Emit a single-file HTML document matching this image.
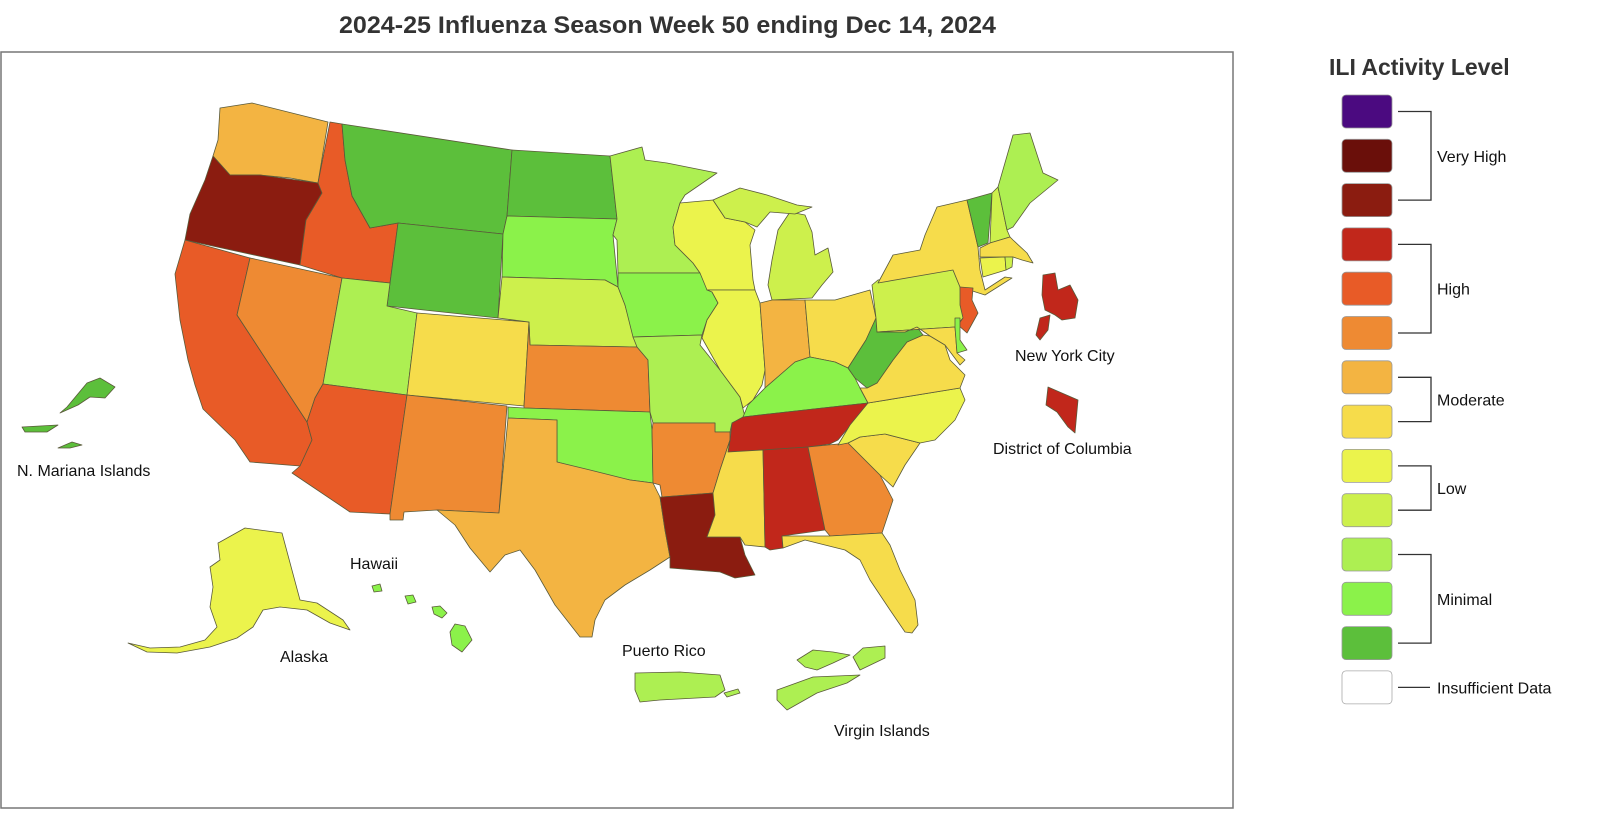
<!DOCTYPE html>
<html><head><meta charset="utf-8">
<style>
html,body{margin:0;padding:0;background:#fff;}
svg{display:block;font-family:"Liberation Sans",Arial,sans-serif;}
</style></head>
<body>
<svg id="chart" width="1600" height="822" viewBox="0 0 1600 822" xmlns="http://www.w3.org/2000/svg">
<rect x="0" y="0" width="1600" height="822" fill="#fff"/>
<text x="339" y="33" font-size="24" font-weight="bold" fill="#333" textLength="657" lengthAdjust="spacingAndGlyphs">2024-25 Influenza Season Week 50 ending Dec 14, 2024</text>
<rect x="1" y="52" width="1232" height="756" fill="none" stroke="#777" stroke-width="1.5"/>
<g id="map"></g>
<g id="labels">
<text x="17" y="476" font-size="16" fill="#111">N. Mariana Islands</text>
<text x="350" y="569" font-size="16" fill="#111">Hawaii</text>
<text x="280" y="662" font-size="16" fill="#111">Alaska</text>
<text x="622" y="656" font-size="16" fill="#111">Puerto Rico</text>
<text x="834" y="736" font-size="16" fill="#111">Virgin Islands</text>
<text x="1015" y="361" font-size="16" fill="#111">New York City</text>
<text x="993" y="454" font-size="16" fill="#111">District of Columbia</text>
</g>
<text x="1329" y="75" font-size="23" font-weight="bold" fill="#333">ILI Activity Level</text>
<g id="legend"></g>
</svg>
<script>
// ---- data ----
const regions = ["WA","OR","CA","NV","ID","MT","WY","UT","CO","AZ","NM","ND","SD","NE","KS","OK","TX","MN","IA","MO","AR","LA","WI","IL","MI","MI_UP","IN","OH","KY","TN","MS","AL","GA","FL","SC","NC","VA","WV","PA","NY","NJ","MD","DE","VT","NH","ME","MA","CT","RI","AK","HI1","HI2","HI3","HI4","PR","PR2","VI1","VI2","VI3","NMI1","NMI2","NMI3","NYC1","NYC2","DC"];
const levels =  [7,11,9,8,9,1,1,3,6,9,8,1,2,4,8,2,7,3,2,3,8,11,5,5,4,4,7,6,2,10,6,10,8,6,6,5,6,1,4,6,9,6,2,1,4,3,6,5,4,5,2,2,2,2,3,3,3,3,3,1,1,1,10,10,10];
const legendColors = ["#4b0a80","#6a0f0a","#8b1c10","#c1271b","#e85b27","#ee8a33","#f3b442","#f6dc4b","#ebf34c","#cdf04c","#adef52","#8bf24a","#5cbf3b","#ffffff"];
const legendGroups = ["Very High","High","Moderate","Low","Minimal","Insufficient Data"];
const groupStart = [0,3,6,8,10,13];
const groupEnd   = [2,5,7,9,12,13];

// ---- geometry (pixel outlines) ----
const shapes = {
WA:"220,108 252,103 328,122 318,183 290,178 260,175 230,175 213,156 218,140",
OR:"213,156 230,175 260,175 318,183 322,193 306,220 300,265 185,240 190,214 205,180",
CA:"185,240 250,258 237,315 307,422 312,440 300,466 250,462 235,440 203,409 195,385 188,360 180,320 175,274",
NV:"250,258 342,278 323,384 315,398 307,422 237,315",
ID:"330,122 342,124 345,160 352,196 370,228 398,223 390,283 342,278 300,265 306,220 322,193 318,183",
MT:"342,124 512,150 507,216 503,234 398,223 370,228 352,196 345,160",
WY:"398,223 503,234 498,318 387,306",
UT:"342,278 390,283 387,306 417,313 407,395 323,384",
CO:"417,313 529,322 524,406 407,395",
AZ:"315,398 323,384 407,395 390,514 350,512 292,473 300,466 312,440 307,422",
NM:"407,395 507,406 499,513 437,510 404,512 403,520 390,520 390,514",
ND:"512,150 610,156 617,219 507,216",
SD:"507,216 617,219 613,235 618,287 605,280 502,277 503,234",
NE:"502,277 605,280 618,287 625,305 637,347 530,345 529,322 498,318",
KS:"530,345 637,347 648,360 650,412 524,408 524,406 529,322",
OK:"508,407 524,408 650,412 652,430 653,483 630,480 600,474 557,462 557,420 508,418",
TX:"508,418 557,420 557,462 590,470 630,480 653,483 660,497 665,530 670,557 650,570 625,585 605,600 595,620 592,637 580,637 555,605 535,570 520,550 505,555 490,572 470,548 455,525 437,510 499,513",
MN:"610,156 642,147 645,160 667,163 717,173 685,195 680,203 673,227 675,245 693,263 700,273 618,273 617,240 613,235 617,219",
IA:"618,273 700,273 712,292 718,303 707,320 702,335 633,337 625,305 618,287",
MO:"633,337 702,335 700,345 720,370 740,397 745,417 732,423 730,432 715,432 715,423 653,423 650,412 648,360 637,347",
AR:"653,423 715,423 715,432 730,432 730,440 720,470 713,493 662,497 660,485 653,483 652,430",
LA:"662,497 713,493 715,515 707,537 740,537 745,555 755,575 735,578 720,572 695,570 670,568 670,557 665,530 660,497",
WI:"680,203 713,200 725,218 745,222 755,230 750,245 753,280 755,290 707,290 700,273 693,263 675,245 673,227",
IL:"707,290 755,290 760,303 765,370 762,385 753,400 743,408 740,397 720,370 702,338 707,320 718,303 712,292",
MI:"772,300 812,298 822,285 833,272 828,248 815,255 812,232 805,215 790,212 778,230 772,260 768,285",
MI_UP:"713,200 740,188 767,195 797,205 812,207 795,214 770,212 757,227 745,222 725,218",
IN:"760,303 772,300 805,300 810,357 795,362 780,375 765,388 765,370",
OH:"805,300 835,300 870,290 876,318 866,340 848,368 835,362 810,357",
KY:"743,417 748,405 753,400 765,388 780,375 795,362 810,357 835,362 848,368 855,378 862,392 868,403 760,415",
TN:"743,417 760,415 868,403 855,420 838,440 830,444 808,447 763,450 728,452 730,440 732,423",
MS:"728,452 763,450 765,547 745,545 740,537 707,537 715,515 713,493 720,470 730,440",
AL:"763,450 808,447 825,530 782,536 783,548 770,550 765,547",
GA:"808,447 848,443 860,455 880,475 893,500 882,533 830,536 825,530",
FL:"782,536 830,536 882,533 890,545 900,570 915,600 918,625 912,633 905,632 890,610 870,580 860,560 845,550 825,545 805,540 783,548",
SC:"848,443 860,437 885,434 920,443 905,465 893,487 880,475 860,455",
NC:"868,403 960,388 965,400 955,420 935,440 920,443 885,434 860,437 848,443 838,445 850,425",
VA:"860,388 868,403 960,388 965,375 950,360 945,345 930,336 923,335 907,342 893,360 877,383 867,388",
WV:"876,318 877,332 905,332 917,327 923,335 907,342 893,360 877,383 867,388 855,378 848,368 866,340",
PA:"872,285 878,280 953,270 960,287 963,318 955,327 877,332 876,318",
NY:"878,283 893,255 920,250 925,235 937,207 967,200 978,247 980,270 985,290 1005,277 1012,278 985,295 960,287 953,270",
NJ:"960,287 973,288 972,300 978,313 967,333 958,325 963,318 960,305",
MD:"877,332 955,327 957,353 965,360 960,365 945,345 930,336 917,327 905,332",
DE:"955,318 960,318 960,340 967,350 957,353 955,327",
VT:"967,200 992,193 988,243 978,247",
NH:"992,193 998,187 1007,230 1010,237 990,243",
ME:"998,187 1013,135 1030,133 1043,173 1058,180 1030,203 1013,227 1007,230",
MA:"980,248 990,243 1010,237 1013,240 1027,253 1033,263 1022,260 1013,257 980,257",
CT:"980,258 1005,257 1006,270 983,277",
RI:"1005,257 1013,257 1012,267 1006,270",
AK:"220,542 245,528 282,533 300,600 317,603 343,620 350,630 330,623 307,610 280,607 263,610 253,627 237,638 210,647 177,653 147,652 128,643 150,648 180,647 205,640 217,627 210,607 213,587 210,567 220,560 218,543",
HI1:"372,586 380,584 382,591 374,592",
HI2:"405,596 413,595 416,602 408,604",
HI3:"432,607 440,606 447,613 442,618 434,614",
HI4:"455,624 465,626 472,640 462,652 452,645 450,632",
PR:"635,673 680,672 720,675 725,690 715,697 660,700 640,702 635,690",
PR2:"724,693 738,689 740,693 727,697",
VI1:"777,690 813,677 860,675 847,683 817,693 787,710 777,700",
VI2:"797,660 813,650 833,652 850,655 833,663 817,670 805,667",
VI3:"853,657 863,648 885,646 885,658 860,670",
NMI1:"87,383 100,378 115,387 105,398 90,397 78,405 60,413 67,407",
NMI2:"22,427 58,425 47,432 25,432",
NMI3:"58,448 72,442 82,445 70,448",
NYC1:"1043,275 1055,273 1058,290 1070,285 1078,300 1075,318 1062,320 1055,315 1045,310 1042,295",
NYC2:"1040,318 1050,315 1048,330 1040,340 1036,335",
DC:"1048,387 1078,400 1075,433 1068,427 1057,412 1046,405"
};

const NS = "http://www.w3.org/2000/svg";
function colorFor(level){ return legendColors[13 - level]; }

const map = document.getElementById("map");
regions.forEach((r, i) => {
  const p = document.createElementNS(NS, "polygon");
  p.setAttribute("points", shapes[r]);
  p.setAttribute("fill", colorFor(levels[i]));
  p.setAttribute("stroke", "#5a5a3a");
  p.setAttribute("stroke-width", "0.8");
  p.setAttribute("stroke-linejoin", "round");
  
  
  map.appendChild(p);
});

// legend
const legend = document.getElementById("legend");
const boxX = 1342, boxW = 50, boxH = 33, top0 = 95, step = 44.3;
legendColors.forEach((c, i) => {
  const r = document.createElementNS(NS, "rect");
  r.setAttribute("x", boxX); r.setAttribute("y", top0 + i * step);
  r.setAttribute("width", boxW); r.setAttribute("height", boxH);
  r.setAttribute("rx", 4);
  r.setAttribute("fill", c);
  r.setAttribute("stroke", i === 13 ? "#aaa" : "#999");
  r.setAttribute("stroke-width", "0.8");
  
  
  legend.appendChild(r);
});
legendGroups.forEach((g, k) => {
  const y1 = top0 + groupStart[k] * step + boxH / 2;
  const y2 = top0 + groupEnd[k] * step + boxH / 2;
  const path = document.createElementNS(NS, "path");
  let d;
  if (y1 === y2) d = `M1398,${y1} H1430`;
  else d = `M1398,${y1} H1431 V${y2} H1398`;
  path.setAttribute("d", d);
  path.setAttribute("fill", "none");
  path.setAttribute("stroke", "#333");
  path.setAttribute("stroke-width", "1.3");
  
  
  legend.appendChild(path);
  const t = document.createElementNS(NS, "text");
  t.setAttribute("x", 1437);
  t.setAttribute("y", (y1 + y2) / 2 + 6);
  t.setAttribute("font-size", "16");
  t.setAttribute("fill", "#111");
  t.textContent = g;
  
  
  legend.appendChild(t);
});
</script>
</body></html>
